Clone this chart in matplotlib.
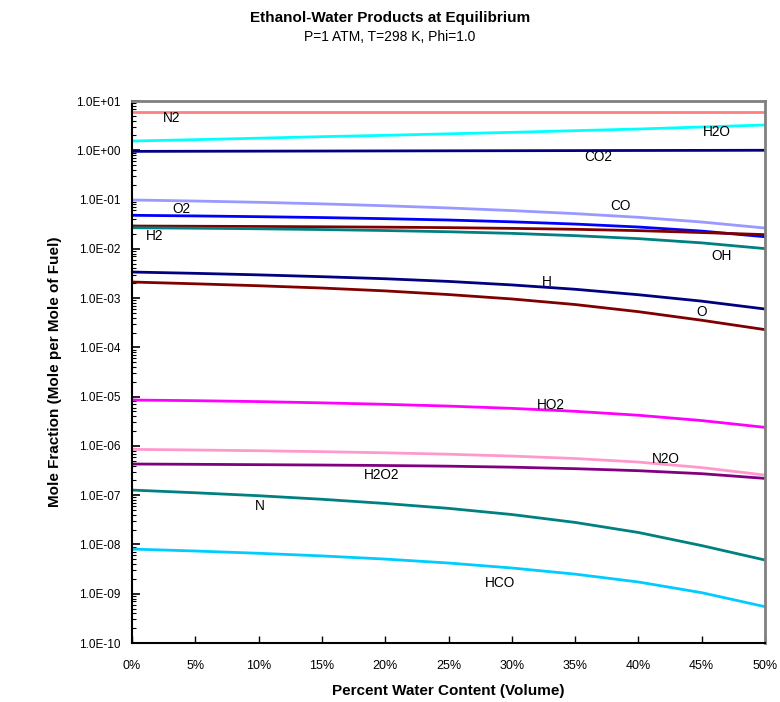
import matplotlib
matplotlib.use("Agg")
import matplotlib.pyplot as plt
import numpy as np
from matplotlib.ticker import FuncFormatter, LogLocator, NullFormatter

plt.rcParams['font.family'] = ['Liberation Sans', 'DejaVu Sans']

water_pct = [0, 5, 10, 15, 20, 25, 30, 35, 40, 45, 50]

n2   = [5.89, 5.89, 5.89, 5.89, 5.89, 5.89, 5.89, 5.89, 5.89, 5.89, 5.89]
h2o  = [1.54, 1.64, 1.76, 1.89, 2.01, 2.16, 2.31, 2.50, 2.70, 2.97, 3.26]
co2  = [0.95, 0.955, 0.96, 0.965, 0.97, 0.975, 0.98, 0.985, 0.99, 0.995, 1.0]
co   = [0.098, 0.0933, 0.0879, 0.0817, 0.0748, 0.0675, 0.0597, 0.0518, 0.0436, 0.0350, 0.0264]
o2   = [0.0479, 0.0465, 0.0449, 0.0431, 0.0409, 0.0384, 0.0353, 0.0318, 0.0277, 0.0229, 0.0176]
h2   = [0.0290, 0.0287, 0.0284, 0.0280, 0.0275, 0.0269, 0.0260, 0.0249, 0.0234, 0.0214, 0.0194]
oh   = [0.0268, 0.0262, 0.0255, 0.0246, 0.0235, 0.0222, 0.0206, 0.0185, 0.0161, 0.0132, 0.0101]
h    = [3.38e-3, 3.18e-3, 2.96e-3, 2.72e-3, 2.47e-3, 2.18e-3, 1.85e-3, 1.51e-3, 1.17e-3, 8.67e-4, 6.00e-4]
o    = [2.12e-3, 1.95e-3, 1.78e-3, 1.60e-3, 1.40e-3, 1.18e-3, 9.60e-4, 7.40e-4, 5.30e-4, 3.55e-4, 2.29e-4]
ho2  = [8.53e-6, 8.28e-6, 7.93e-6, 7.48e-6, 6.98e-6, 6.43e-6, 5.78e-6, 5.04e-6, 4.19e-6, 3.27e-6, 2.38e-6]
n2o  = [8.51e-7, 8.26e-7, 7.98e-7, 7.64e-7, 7.24e-7, 6.78e-7, 6.22e-7, 5.55e-7, 4.70e-7, 3.63e-7, 2.56e-7]
h2o2 = [4.29e-7, 4.23e-7, 4.16e-7, 4.09e-7, 4.00e-7, 3.88e-7, 3.70e-7, 3.45e-7, 3.14e-7, 2.73e-7, 2.19e-7]
n    = [1.27e-7, 1.12e-7, 9.75e-8, 8.26e-8, 6.79e-8, 5.40e-8, 4.05e-8, 2.80e-8, 1.75e-8, 9.48e-9, 4.83e-9]
hco  = [8.07e-9, 7.36e-9, 6.62e-9, 5.85e-9, 5.05e-9, 4.20e-9, 3.33e-9, 2.50e-9, 1.73e-9, 1.05e-9, 5.46e-10]

series = [
    ("N2", n2, "#ff8080"),
    ("H2O", h2o, "#00ffff"),
    ("CO2", co2, "#000080"),
    ("CO", co, "#9999ff"),
    ("O2", o2, "#0000ff"),
    ("H2", h2, "#800000"),
    ("OH", oh, "#008080"),
    ("H", h, "#000080"),
    ("O", o, "#800000"),
    ("HO2", ho2, "#ff00ff"),
    ("N2O", n2o, "#ff99cc"),
    ("H2O2", h2o2, "#800080"),
    ("N", n, "#008080"),
    ("HCO", hco, "#00ccff"),
]

# label anchor positions (x %, y value)
label_names = ["N2", "H2O", "CO2", "CO", "O2", "H2", "OH", "H", "O", "HO2", "N2O", "H2O2", "N", "HCO"]
label_x = [3.1, 46.2, 36.8, 38.6, 3.9, 1.8, 46.6, 32.8, 45.0, 33.1, 42.2, 19.7, 10.1, 29.1]
label_y = [4.52, 2.35, 0.73, 0.074, 0.0643, 0.0182, 7.14e-3, 2.12e-3, 5.22e-4, 6.76e-6,
           5.42e-7, 2.57e-7, 6.03e-8, 1.65e-9]

fig = plt.figure(figsize=(7.8, 7.02), dpi=100)
ax = fig.add_axes([132/780, 1-643/702, (765-132)/780, (643-101)/702])

for name, vals, col in series:
    ax.plot(water_pct, vals, color=col, lw=2, solid_joinstyle='round')

for name, xv, yv in zip(label_names, label_x, label_y):
    ax.text(xv, yv, name, fontsize=9.8, ha='center', va='center', color='black')

ax.set_yscale('log')
ax.set_xlim(0, 50)
ax.set_ylim(1e-10, 1e1)
ax.set_xticks(np.arange(0, 51, 5))
ax.xaxis.set_major_formatter(FuncFormatter(lambda v, p: f"{int(round(v))}%"))
ax.yaxis.set_major_locator(LogLocator(base=10, numticks=20))
ax.yaxis.set_major_formatter(FuncFormatter(
    lambda v, p: "1.0E" + ("+" if v >= 1 else "-") + f"{abs(int(round(np.log10(v)))):02d}"))
ax.yaxis.set_minor_locator(LogLocator(base=10, subs=np.arange(2, 10), numticks=20))
ax.yaxis.set_minor_formatter(NullFormatter())
ax.tick_params(axis='x', direction='in', labelsize=9, colors='black')
ax.tick_params(axis='y', which='both', direction='in', labelsize=8.5, colors='black')
ax.tick_params(axis='y', which='major', length=6, width=1.2, pad=8)
ax.tick_params(axis='y', which='minor', length=3, width=0.8)
ax.tick_params(axis='x', which='major', length=5, width=1, pad=12)

for s in ['left', 'bottom']:
    ax.spines[s].set_color('black')
    ax.spines[s].set_linewidth(1.5)
for s in ['top', 'right']:
    ax.spines[s].set_color('#808080')
    ax.spines[s].set_linewidth(2)

ax.set_xlabel("Percent Water Content (Volume)", fontsize=11, fontweight='bold', labelpad=9)
ax.set_ylabel("Mole Fraction (Mole per Mole of Fuel)", fontsize=11, fontweight='bold', labelpad=10)

fig.text(0.5, 1-18/702, "Ethanol-Water Products at Equilibrium", ha='center', va='center',
         fontsize=11, fontweight='bold')
fig.text(0.5, 1-37/702, "P=1 ATM, T=298 K, Phi=1.0", ha='center', va='center', fontsize=10)

fig.savefig("out.png", dpi=100)
